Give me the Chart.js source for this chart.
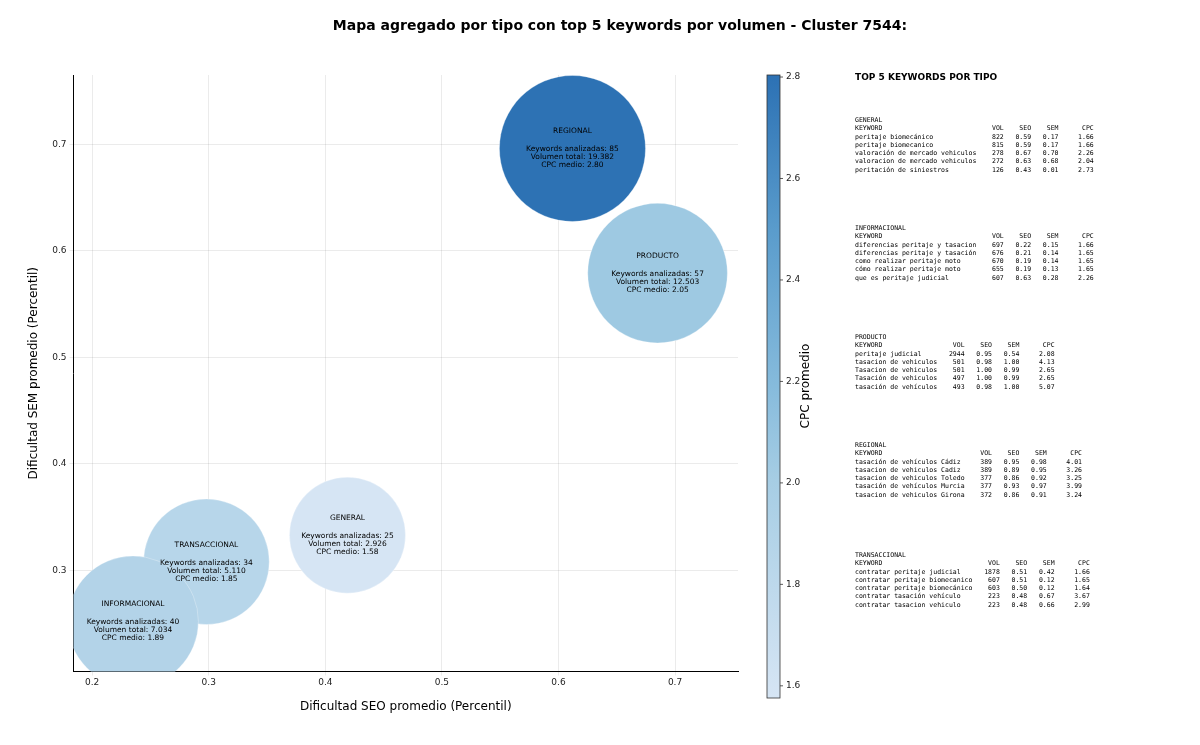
<!DOCTYPE html>
<html><head><meta charset="utf-8">
<script src="https://cdn.jsdelivr.net/npm/chart.js@4/dist/chart.umd.min.js"></script>
<style>
body{margin:0;background:#fff;width:1200px;height:745px;overflow:hidden;position:relative;font-family:"DejaVu Sans",sans-serif}
#c{position:absolute;left:0;top:0}
#panel{position:absolute;left:855px;top:72px}
#panel h4{margin:0;font:bold 9px "DejaVu Sans";color:#000}
pre{position:absolute;left:0;margin:0;font:6.5px/8.3px "DejaVu Sans Mono",monospace;color:#000}
</style></head><body>
<canvas id="c" width="1200" height="745"></canvas>
<div id="panel"><h4>TOP 5 KEYWORDS POR TIPO</h4></div>
<script>
const types=["REGIONAL","PRODUCTO","GENERAL","TRANSACCIONAL","INFORMACIONAL"];
const seoAvg=[0.612,0.685,0.419,0.298,0.235];
const semAvg=[0.696,0.579,0.333,0.308,0.252];
const kwCount=[85,57,25,34,40];
const volTotal=["19.382","12.503","2.926","5.110","7.034"];
const volNum=[19382,12503,2926,5110,7034];
const cpcAvg=[2.80,2.05,1.58,1.85,1.89];
const xTicks=[0.2,0.3,0.4,0.5,0.6,0.7];
const yTicks=[0.3,0.4,0.5,0.6,0.7];
const cbTicks=[1.6,1.8,2.0,2.2,2.4,2.6,2.8];

const topTypes=["GENERAL","INFORMACIONAL","PRODUCTO","REGIONAL","TRANSACCIONAL"];
const topKw=[
["peritaje biomecánico","peritaje biomecanico","valoración de mercado vehiculos","valoracion de mercado vehiculos","peritación de siniestros"],
["diferencias peritaje y tasacion","diferencias peritaje y tasación","como realizar peritaje moto","cómo realizar peritaje moto","que es peritaje judicial"],
["peritaje judicial","tasacion de vehiculos","Tasacion de vehiculos","Tasación de vehiculos","tasación de vehículos"],
["tasación de vehículos Cádiz","tasacion de vehiculos Cadiz","tasacion de vehiculos Toledo","tasación de vehículos Murcia","tasacion de vehiculos Girona"],
["contratar peritaje judicial","contratar peritaje biomecanico","contratar peritaje biomecánico","contratar tasación vehículo","contratar tasacion vehiculo"]];
const topVol=[[822,815,278,272,126],[697,676,670,655,607],[2944,501,501,497,493],[389,389,377,377,372],[1878,607,603,223,223]];
const topSeo=[[0.59,0.59,0.67,0.63,0.43],[0.22,0.21,0.19,0.19,0.63],[0.95,0.98,1.00,1.00,0.98],[0.95,0.89,0.86,0.93,0.86],[0.51,0.51,0.50,0.48,0.48]];
const topSem=[[0.17,0.17,0.70,0.68,0.01],[0.15,0.14,0.14,0.13,0.28],[0.54,1.00,0.99,0.99,1.00],[0.98,0.95,0.92,0.97,0.91],[0.42,0.12,0.12,0.67,0.66]];
const topCpc=[[1.66,1.66,2.26,2.04,2.73],[1.66,1.65,1.65,1.65,2.26],[2.08,4.13,2.65,2.65,5.07],[4.01,3.26,3.25,3.99,3.24],[1.66,1.65,1.64,3.67,2.99]];

// text panel
const panel=document.getElementById('panel');
const blockTops=[44,152,261,369,479];
topTypes.forEach((t,i)=>{
  const W=Math.max(...topKw[i].map(s=>s.length))+2;
  let s=t+"\n"+"KEYWORD".padEnd(W)+"VOL".padStart(5)+"SEO".padStart(7)+"SEM".padStart(7)+"CPC".padStart(9)+"\n";
  topKw[i].forEach((k,j)=>{s+=k.padEnd(W)+String(topVol[i][j]).padStart(5)+topSeo[i][j].toFixed(2).padStart(7)+topSem[i][j].toFixed(2).padStart(7)+topCpc[i][j].toFixed(2).padStart(9)+"\n";});
  const p=document.createElement('pre');p.style.top=blockTops[i]+'px';p.textContent=s;panel.appendChild(p);
});

// colormap
const VMIN=1.576,VMAX=2.804;
const stops=[[0,[214,229,244]],[0.35,[166,205,228]],[0.5,[134,187,220]],[0.75,[90,156,204]],[1,[44,113,180]]];
function cmap(v){let t=Math.min(1,Math.max(0,(v-VMIN)/(VMAX-VMIN)));
 for(let i=1;i<stops.length;i++){if(t<=stops[i][0]){const a=stops[i-1],b=stops[i],f=(t-a[0])/(b[0]-a[0]);
 return 'rgb('+a[1].map((c,k)=>Math.round(c+(b[1][k]-c)*f)).join(',')+')';}}return 'rgb(44,113,180)';}

const radius=v=>Math.sqrt(Math.max(0,1040*Math.log(v)-4935));

const extras={id:'extras',
 afterDatasetsDraw(ch){const ctx=ch.ctx;const m=ch.getDatasetMeta(0);
  ctx.save();ctx.fillStyle='#000';ctx.textAlign='center';ctx.textBaseline='middle';ctx.font='7.5px "DejaVu Sans"';
  m.data.forEach((el,i)=>{const x=el.x,y=el.y;
   ctx.fillText(types[i],x,y-17);
   ctx.fillText('Keywords analizadas: '+kwCount[i],x,y+1);
   ctx.fillText('Volumen total: '+volTotal[i],x,y+9);
   ctx.fillText('CPC medio: '+cpcAvg[i].toFixed(2),x,y+17);});
  ctx.restore();},
 afterDraw(ch){const ctx=ch.ctx;ctx.save();
  ctx.font='bold 14px "DejaVu Sans"';ctx.fillStyle='#000';ctx.textAlign='center';ctx.textBaseline='middle';
  ctx.fillText('Mapa agregado por tipo con top 5 keywords por volumen - Cluster 7544:',620,26);
  // colorbar
  const x0=767,w=13,y0=75,y1=698;
  const g=ctx.createLinearGradient(0,y1,0,y0);stops.forEach(s=>g.addColorStop(s[0],'rgb('+s[1].join(',')+')'));
  ctx.fillStyle=g;ctx.fillRect(x0,y0,w,y1-y0);
  ctx.strokeStyle='#333';ctx.lineWidth=0.8;ctx.strokeRect(x0,y0,w,y1-y0);
  ctx.font='9px "DejaVu Sans"';ctx.textAlign='left';ctx.fillStyle='#222';
  cbTicks.forEach(t=>{const y=y1-(t-VMIN)/(VMAX-VMIN)*(y1-y0);
   ctx.beginPath();ctx.moveTo(x0+w,y);ctx.lineTo(x0+w+3,y);ctx.stroke();ctx.fillText(t.toFixed(1),x0+w+6,y);});
  ctx.translate(806,386);ctx.rotate(-Math.PI/2);ctx.textAlign='center';ctx.font='12px "DejaVu Sans"';ctx.fillStyle='#000';
  ctx.fillText('CPC promedio',0,0);
  ctx.restore();}};

new Chart(document.getElementById('c'),{type:'bubble',
 data:{datasets:[{data:types.map((t,i)=>({x:seoAvg[i],y:semAvg[i],r:radius(volNum[i])})),
  backgroundColor:cpcAvg.map(cmap),borderColor:'rgba(255,255,255,0.6)',borderWidth:0.5}]},
 options:{responsive:false,animation:false,
  layout:{padding:{top:75,right:462,bottom:0,left:0}},
  plugins:{legend:{display:false},tooltip:{enabled:false}},
  scales:{
   x:{type:'linear',min:0.184,max:0.754,afterFit:s=>{s.height=47;},
    afterBuildTicks:s=>{s.ticks=xTicks.map(v=>({value:v}));},
    grid:{color:'rgba(0,0,0,0.08)',borderDash:[3,3],tickLength:4,drawTicks:true},
    border:{color:'#000'},
    ticks:{color:'#222',font:{size:9,family:'DejaVu Sans'},callback:v=>v.toFixed(1),padding:2},
    title:{display:true,text:'Dificultad SEO promedio (Percentil)',color:'#000',font:{size:12,family:'DejaVu Sans'},padding:{top:0}}},
   y:{type:'linear',min:0.205,max:0.765,afterFit:s=>{s.width=51;},
    afterBuildTicks:s=>{s.ticks=yTicks.map(v=>({value:v}));},
    grid:{color:'rgba(0,0,0,0.08)',borderDash:[3,3],tickLength:4},
    border:{color:'#000'},
    ticks:{color:'#222',font:{size:9,family:'DejaVu Sans'},callback:v=>v.toFixed(1),padding:3},
    title:{display:true,text:'Dificultad SEM promedio (Percentil)',color:'#000',font:{size:12,family:'DejaVu Sans'},padding:{bottom:2}}}}},
 plugins:[extras]});
</script></body></html>
